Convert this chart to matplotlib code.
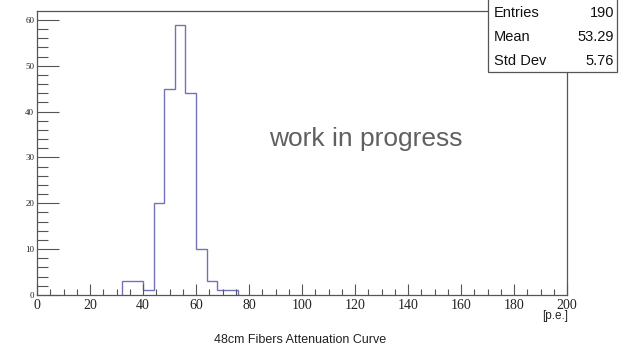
import numpy as np
import matplotlib
matplotlib.use("Agg")
import matplotlib.pyplot as plt
from matplotlib.patches import Rectangle
from matplotlib.ticker import MultipleLocator

# histogram contents (bin width 4 p.e.)
edges = np.arange(32, 77, 4)
counts = [3, 3, 1, 20, 45, 59, 44, 10, 3, 1, 1]

stat_names = ["Entries", "Mean", "Std Dev"]
stat_values = ["190", "53.29", "5.76"]

W, H = 620, 352
fig = plt.figure(figsize=(W / 100, H / 100), dpi=100)
ax = fig.add_axes([37 / W, 1 - 295 / H, (567 - 37) / W, (295 - 11) / H])

ax.stairs(counts, edges, color="#7272b8", linewidth=1.0)
ax.set_xlim(0, 200)
ax.set_ylim(0, max(counts) * 1.05)

for s in ax.spines.values():
    s.set_color("#555555")
    s.set_linewidth(0.9)

ax.xaxis.set_major_locator(MultipleLocator(20))
ax.xaxis.set_minor_locator(MultipleLocator(5))
ax.yaxis.set_major_locator(MultipleLocator(10))
ax.yaxis.set_minor_locator(MultipleLocator(2))
ax.tick_params(axis="x", which="major", direction="in", length=8, width=0.8,
               color="#555555", labelsize=10, pad=3,
               labelfontfamily="Liberation Serif", labelcolor="#222222")
ax.tick_params(axis="x", which="minor", direction="in", length=4, width=0.8,
               color="#555555")
ax.tick_params(axis="y", which="major", direction="in", length=16, width=0.8,
               color="#555555", labelsize=6.5, pad=2,
               labelfontfamily="Liberation Serif", labelcolor="#222222")
ax.tick_params(axis="y", which="minor", direction="in", length=8, width=0.8,
               color="#555555")

fig.text(568 / W, 1 - 316 / H, "[p.e.]", ha="right", va="center",
         fontsize=8.5, family="Liberation Sans", color="#222222")
fig.text(300 / W, 1 - 340 / H, "48cm Fibers Attenuation Curve", ha="center",
         va="center", fontsize=9, family="Liberation Sans", color="#222222")
fig.text(366 / W, 1 - 139 / H, "work in progress", ha="center",
         va="center", fontsize=19, family="Liberation Sans", color="#606060")

# stats box
box = Rectangle((488 / W, 1 - 72 / H), (617 - 488) / W, 74 / H,
                transform=fig.transFigure, facecolor="white",
                edgecolor="#555555", linewidth=0.9, zorder=5)
fig.add_artist(box)
for i, (n, v) in enumerate(zip(stat_names, stat_values)):
    y = 1 - (13 + 24 * i) / H
    fig.text(494 / W, y, n, ha="left", va="center", fontsize=10.5,
             family="Liberation Sans", color="#111111", zorder=6)
    fig.text(614 / W, y, v, ha="right", va="center", fontsize=10.5,
             family="Liberation Sans", color="#111111", zorder=6)

fig.savefig("out.png", dpi=100)
